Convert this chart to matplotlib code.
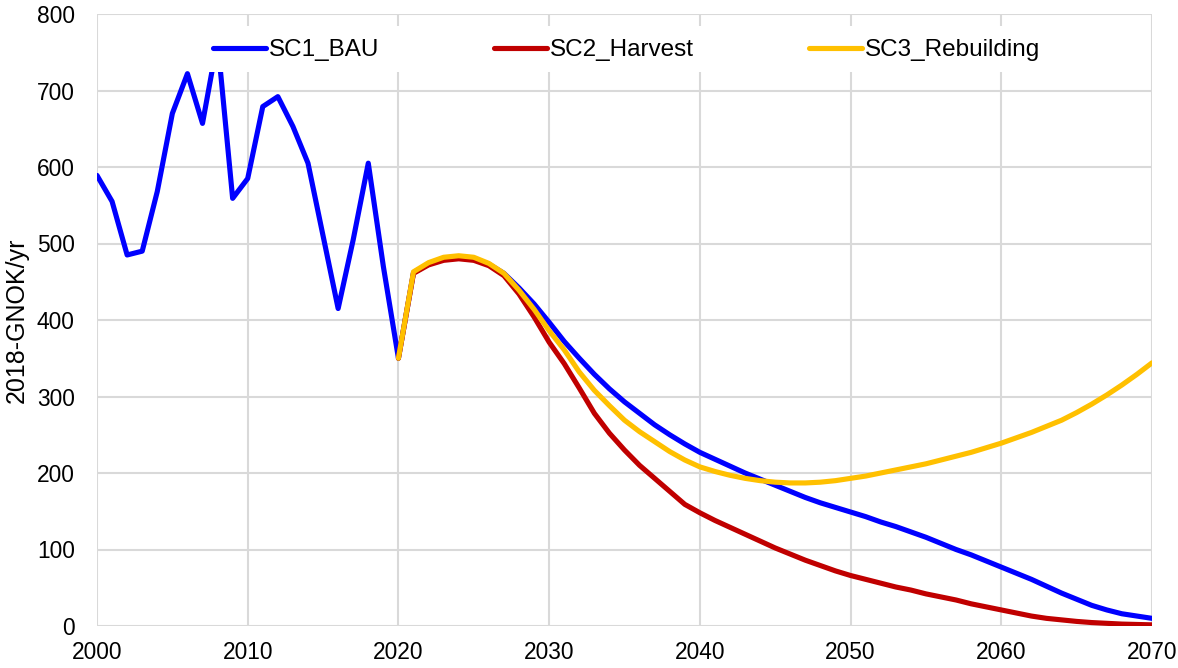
import matplotlib
matplotlib.use("Agg")
import matplotlib.pyplot as plt
from matplotlib.patches import Rectangle

plt.rcParams['font.family'] = ['Liberation Sans', 'DejaVu Sans']

years_bau = list(range(2000, 2071))
years_sc = list(range(2020, 2071))

sc1_bau = [589, 555, 485, 490, 568, 670, 722, 657, 765, 559,
           585, 679, 692, 653, 605, 510, 415, 505, 605, 470,
           350, 462, 473, 480, 482, 480, 473, 461, 442, 421,
           397, 372, 350, 329, 310, 293, 278, 263, 250, 238,
           227, 218, 209, 200, 192, 184, 176, 168, 161, 155,
           149, 143, 136, 130, 123, 116, 108, 100, 93, 85,
           77, 69, 61, 52, 43, 35, 27, 21, 16, 13,
           10]

sc2_harvest = [350, 461, 472, 478, 480, 478, 471, 458, 434, 404,
               371, 343, 311, 278, 252, 230, 210, 193, 176, 159,
               148, 138, 129, 120, 111, 102, 94, 86, 79, 72,
               66, 61, 56, 51, 47, 42, 38, 34, 29, 25,
               21, 17, 13, 10, 8, 6, 4.5, 3.5, 2.5, 2,
               1.5]

sc3_rebuilding = [350, 463, 475, 482, 484, 482, 474, 461, 439, 414,
                  386, 361, 332, 308, 288, 269, 254, 241, 228, 217,
                  208, 202, 197, 193, 190, 188, 187, 187, 188, 190,
                  193, 196, 200, 204, 208, 212, 217, 222, 227, 233,
                  239, 246, 253, 261, 269, 279, 290, 302, 315, 329,
                  344]

labels = ["SC1_BAU", "SC2_Harvest", "SC3_Rebuilding"]
colors = ["#0000FF", "#C00000", "#FFC000"]
x_ticks = list(range(2000, 2071, 10))
y_ticks = list(range(0, 801, 100))

FS = 16.4
LFS = 17.5

fig = plt.figure(figsize=(11.78, 6.68), dpi=100)
ax = fig.add_axes([97/1178, 1 - 626/668, (1152-97)/1178, (626-14)/668])

lw = 3.7
kw = dict(solid_joinstyle='round', solid_capstyle='round')
ax.plot(years_bau, sc1_bau, color=colors[0], lw=lw, label=labels[0], **kw)
ax.plot(years_sc, sc2_harvest, color=colors[1], lw=lw, label=labels[1], **kw)
ax.plot(years_sc, sc3_rebuilding, color=colors[2], lw=lw, label=labels[2], **kw)

ax.set_xlim(2000, 2070)
ax.set_ylim(0, 800)
ax.set_xticks(x_ticks)
ax.set_yticks(y_ticks)
ax.set_axisbelow(True)
ax.grid(True, color="#d9d9d9", lw=1.5)
for s in ax.spines.values():
    s.set_visible(False)
ax.tick_params(axis='both', length=0, labelsize=FS, colors='black')
ax.tick_params(axis='y', pad=16)
ax.tick_params(axis='x', pad=10.5)
ax.set_ylabel("2018-GNOK/yr", fontsize=18, labelpad=6)

# white legend background box
ax.add_patch(Rectangle((0.093, 0.905), 0.815, 0.0752, transform=ax.transAxes,
                       facecolor='white', edgecolor='none', zorder=4.5))

leg = ax.legend(loc='center', bbox_to_anchor=(0.502, 0.941), ncol=3,
                fontsize=LFS, frameon=False,
                handlelength=2.2, handletextpad=0.12, columnspacing=4.7,
                borderpad=0.3, borderaxespad=0)
leg.set_zorder(5)
for h in leg.get_lines():
    h.set_linewidth(lw)

fig.savefig("out.png", dpi=100)
